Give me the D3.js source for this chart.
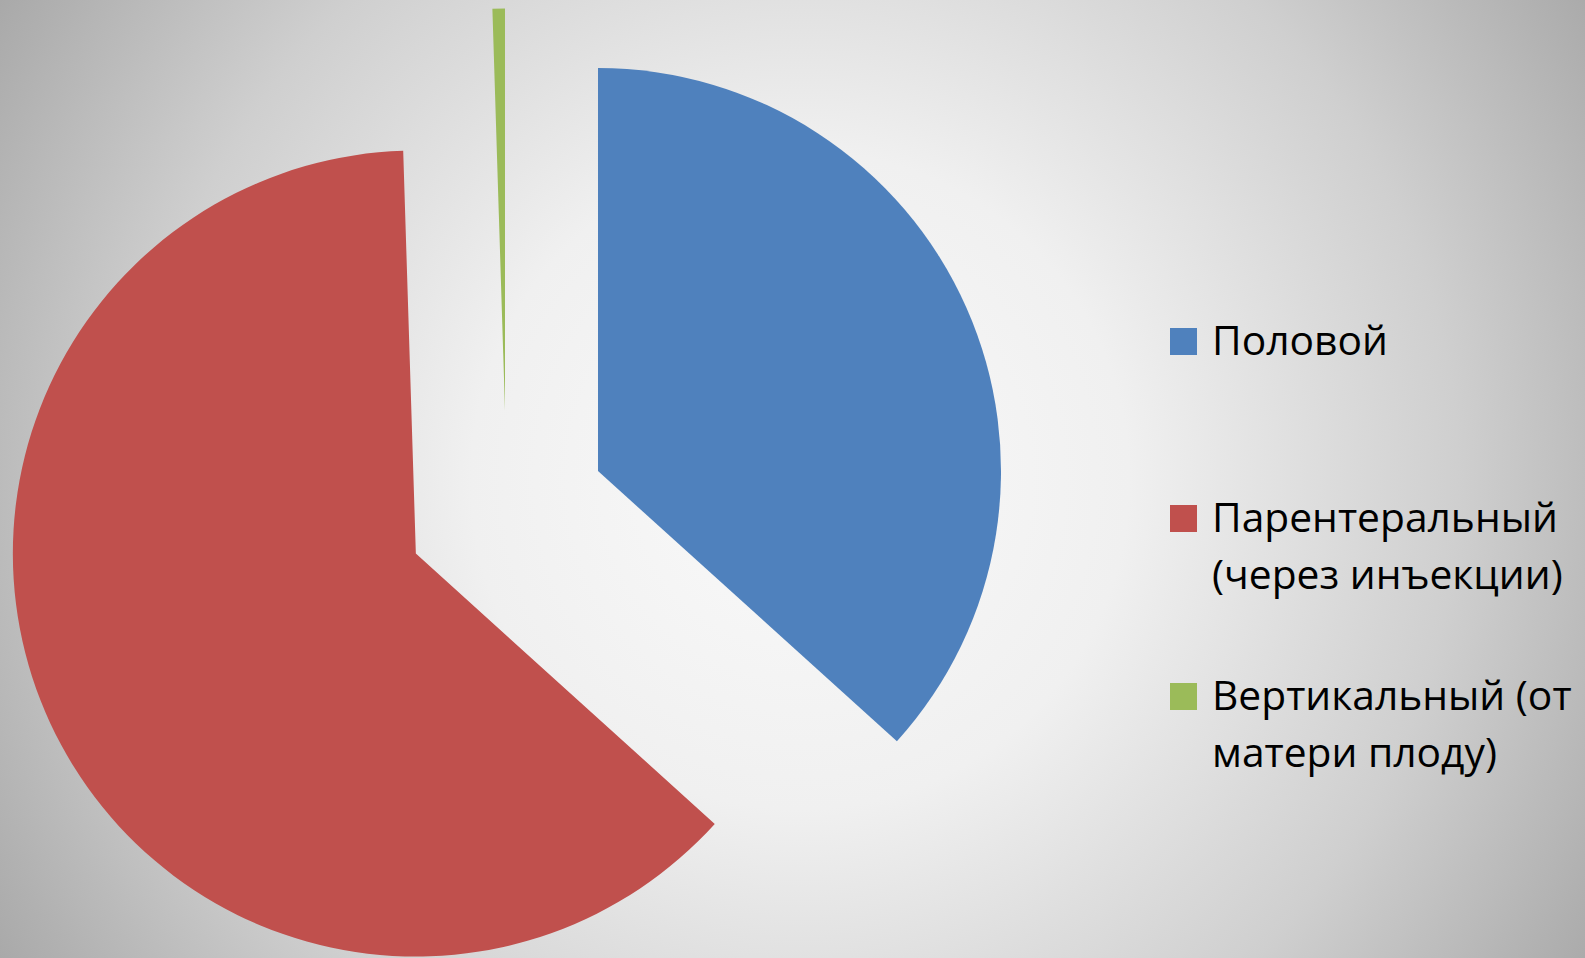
<!DOCTYPE html>
<html>
<head>
<meta charset="utf-8">
<script src="https://cdn.jsdelivr.net/npm/d3@7"></script>
<style>
  html, body { margin: 0; padding: 0; overflow: hidden; }
  svg { display: block; }
</style>
</head>
<body>
<svg id="chart" width="1585" height="958"></svg>
<script>
// Data
const categories = ["Половой", "Парентеральный (через инъекции)", "Вертикальный (от матери плоду)"];
const values = [36.7, 62.8, 0.5];
const legendLines = [["Половой"], ["Парентеральный", "(через инъекции)"], ["Вертикальный (от", "матери плоду)"]];
const colors = ["#4F81BD", "#C0504D", "#9BBB59"];

const W = 1585, H = 958;
const svg = d3.select("#chart");

// background radial gradient
const defs = svg.append("defs");
const grad = defs.append("radialGradient")
  .attr("id", "bg")
  .attr("gradientUnits", "userSpaceOnUse")
  .attr("cx", 800).attr("cy", 480).attr("r", 940);
[[0, "#fafafa"], [0.35, "#f0f0f0"], [0.7, "#cfcfcf"], [1, "#a8a8a8"]].forEach(([o, c]) =>
  grad.append("stop").attr("offset", o).attr("stop-color", c));
svg.append("rect").attr("width", W).attr("height", H).attr("fill", "url(#bg)");

// Pie
const cx = 506.6, cy = 511.6, R = 403, explode = 100;
const pie = d3.pie().sort(null).value(d => d).startAngle(0).endAngle(2 * Math.PI);
const arcs = pie(values);
const arc = d3.arc().innerRadius(0).outerRadius(R);

const g = svg.append("g").attr("transform", `translate(${cx},${cy})`);
g.selectAll("path.slice")
  .data(arcs)
  .join("path")
  .attr("class", "slice")
  .attr("d", arc)
  .attr("fill", (d, i) => colors[i])
  .attr("transform", d => {
    const a = (d.startAngle + d.endAngle) / 2;
    return `translate(${explode * Math.sin(a)},${-explode * Math.cos(a)})`;
  });

// Legend
const fontFamily = "'Open Sans', 'Noto Sans', sans-serif";
// fit font size to reference width of "Парентеральный"
const probe = svg.append("text").attr("font-family", fontFamily).attr("font-size", 100).text("Парентеральный");
const w100 = probe.node().getComputedTextLength();
probe.remove();
const fs = 100 * 346 / w100;

const legendX = 1170, textX = 1212, sq = 27, lineH = 57;
const baselines = [355, 532, 710];
const leg = svg.append("g");
categories.forEach((c, i) => {
  const row = leg.append("g");
  row.append("rect")
    .attr("x", legendX).attr("y", baselines[i] - sq)
    .attr("width", sq).attr("height", sq)
    .attr("fill", colors[i]);
  const t = row.append("text")
    .attr("font-family", fontFamily)
    .attr("font-size", fs)
    .attr("fill", "#000");
  legendLines[i].forEach((ln, j) => {
    t.append("tspan").attr("x", textX).attr("y", baselines[i] + j * lineH).text(ln);
  });
});
</script>
</body>
</html>
